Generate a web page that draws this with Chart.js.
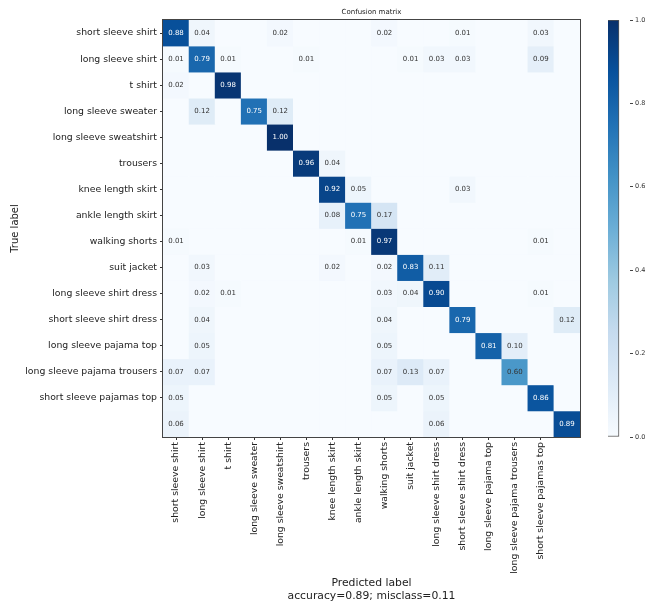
<!DOCTYPE html>
<html>
<head>
<meta charset="utf-8">
<script src="https://cdn.jsdelivr.net/npm/chart.js@4.4.1/dist/chart.umd.min.js"></script>
<style>
  html, body { margin: 0; padding: 0; background: #ffffff; }
  #wrap { position: relative; width: 661px; height: 605px; background: #ffffff; }
  #main { position: absolute; left: 0; top: 0; }
  #cbar { position: absolute; left: 600px; top: 0; }
</style>
</head>
<body>
<div id="wrap">
  <canvas id="main" width="661" height="605"></canvas>
  <canvas id="cbar" width="61" height="605"></canvas>
</div>
<script>
// ---- data ----
const classes = [
  'short sleeve shirt', 'long sleeve shirt', 't shirt', 'long sleeve sweater',
  'long sleeve sweatshirt', 'trousers', 'knee length skirt', 'ankle length skirt',
  'walking shorts', 'suit jacket', 'long sleeve shirt dress', 'short sleeve shirt dress',
  'long sleeve pajama top', 'long sleeve pajama trousers', 'short sleeve pajamas top'
];
// 16x16 normalized confusion matrix (rows = true, cols = predicted); last row/col unlabeled
const matrix = [
  [0.88,0.04,0,0,0.02,0,0,0,0.02,0,0,0.01,0,0,0.03,0],
  [0.01,0.79,0.01,0,0,0.01,0,0,0,0.01,0.03,0.03,0,0,0.09,0],
  [0.02,0,0.98,0,0,0,0,0,0,0,0,0,0,0,0,0],
  [0,0.12,0,0.75,0.12,0,0,0,0,0,0,0,0,0,0,0],
  [0,0,0,0,1.00,0,0,0,0,0,0,0,0,0,0,0],
  [0,0,0,0,0,0.96,0.04,0,0,0,0,0,0,0,0,0],
  [0,0,0,0,0,0,0.92,0.05,0,0,0,0.03,0,0,0,0],
  [0,0,0,0,0,0,0.08,0.75,0.17,0,0,0,0,0,0,0],
  [0.01,0,0,0,0,0,0,0.01,0.97,0,0,0,0,0,0.01,0],
  [0,0.03,0,0,0,0,0.02,0,0.02,0.83,0.11,0,0,0,0,0],
  [0,0.02,0.01,0,0,0,0,0,0.03,0.04,0.90,0,0,0,0.01,0],
  [0,0.04,0,0,0,0,0,0,0.04,0,0,0.79,0,0,0,0.12],
  [0,0.05,0,0,0,0,0,0,0.05,0,0,0,0.81,0.10,0,0],
  [0.07,0.07,0,0,0,0,0,0,0.07,0.13,0.07,0,0,0.60,0,0],
  [0.05,0,0,0,0,0,0,0,0.05,0,0.05,0,0,0,0.86,0],
  [0.06,0,0,0,0,0,0,0,0,0,0.06,0,0,0,0,0.89]
];
const colorbarTicks = [0, 0.2, 0.4, 0.6, 0.8, 1.0];
const titleText = 'Confusion matrix';
const xTitleLines = ['Predicted label', 'accuracy=0.89; misclass=0.11'];
const yTitleText = 'True label';

// ---- matplotlib "Blues" colormap ----
const bluesStops = ['#f7fbff','#deebf7','#c6dbef','#9ecae1','#6baed6','#4292c6','#2171b5','#08519c','#08306b'];
function hexToRgb(h){ return [parseInt(h.slice(1,3),16),parseInt(h.slice(3,5),16),parseInt(h.slice(5,7),16)]; }
function blues(v){
  v = Math.max(0, Math.min(1, v));
  const n = bluesStops.length - 1;
  const p = v * n; const i = Math.min(Math.floor(p), n - 1); const t = p - i;
  const a = hexToRgb(bluesStops[i]), b = hexToRgb(bluesStops[i+1]);
  const c = a.map((x, k) => Math.round(x + (b[k] - x) * t));
  return 'rgb(' + c.join(',') + ')';
}

const FONT = "'DejaVu Sans', 'Liberation Sans', sans-serif";
const nRows = matrix.length, nCols = matrix[0].length;
const colLabels = Array.from({length: nCols}, (_, c) => classes[c] || '');
const thresh = 1.0 / 1.5;

// one dataset per true-label row; each bar spans its row [r-0.5, r+0.5] in predicted column c
const datasets = matrix.map((row, r) => ({
  label: 'row' + r,
  data: row.map(() => [r - 0.5, r + 0.5]),
  backgroundColor: row.map(v => blues(v)),
  borderWidth: 0,
  grouped: false,
  barPercentage: 1.0,
  categoryPercentage: 1.0
}));

const cellText = {
  id: 'cellText',
  afterDatasetsDraw(chart) {
    const {ctx, scales: {x, y}, chartArea: a} = chart;
    ctx.save();
    ctx.font = '7px ' + FONT;
    ctx.textAlign = 'center';
    ctx.textBaseline = 'middle';
    matrix.forEach((row, r) => row.forEach((v, c) => {
      if (v <= 0) return;
      ctx.fillStyle = v > thresh ? '#ffffff' : '#333333';
      ctx.fillText(v.toFixed(2), x.getPixelForValue(c), y.getPixelForValue(r));
    }));
    ctx.strokeStyle = '#444444';
    ctx.lineWidth = 1;
    ctx.strokeRect(Math.round(a.left) - 0.5, Math.round(a.top) - 0.5, Math.round(a.right - a.left) + 1, Math.round(a.bottom - a.top) + 1);
    ctx.restore();
  }
};

new Chart(document.getElementById('main'), {
  type: 'bar',
  data: { labels: colLabels, datasets },
  options: {
    responsive: false,
    animation: false,
    devicePixelRatio: 1,
    layout: { padding: { top: 0, left: 0, right: 81, bottom: 0 } },
    plugins: {
      legend: { display: false },
      tooltip: { enabled: false },
      title: {
        display: true, text: titleText, fullSize: false,
        font: { family: FONT, size: 7, weight: 'normal' }, color: '#222',
        padding: { top: 8, bottom: 3.6 }
      }
    },
    scales: {
      x: {
        type: 'category',
        offset: true,
        afterFit(s) { s.height = 168; },
        grid: {
          offset: false, drawOnChartArea: false, drawTicks: true, tickLength: 3,
          color: (ctx) => (ctx.index >= classes.length ? 'rgba(0,0,0,0)' : '#333333')
        },
        border: { display: false },
        ticks: {
          autoSkip: false, maxRotation: 90, minRotation: 90, padding: 2,
          font: { family: FONT, size: 9.3 }, color: '#222'
        },
        title: {
          display: true, text: xTitleLines,
          font: { family: FONT, size: 10.8, lineHeight: 1.15 }, color: '#222',
          padding: { top: 0, bottom: 2.8 }
        }
      },
      y: {
        type: 'linear',
        reverse: true,
        min: -0.5, max: nRows - 0.5,
        afterFit(s) { s.width = 163; },
        afterBuildTicks(s) { s.ticks = classes.map((_, i) => ({ value: i })); },
        grid: { drawOnChartArea: false, drawTicks: true, tickLength: 3, color: '#333333' },
        border: { display: false },
        ticks: {
          autoSkip: false, padding: 3,
          font: { family: FONT, size: 9.3 }, color: '#222',
          callback: (v) => classes[v] !== undefined ? classes[v] : ''
        },
        title: {
          display: true, text: yTitleText,
          font: { family: FONT, size: 10 }, color: '#222',
          padding: { top: 9, bottom: 0 }
        }
      }
    }
  },
  plugins: [cellText]
});

// ---- colorbar ----
new Chart(document.getElementById('cbar'), {
  type: 'bar',
  data: {
    labels: [''],
    datasets: [{
      data: [[colorbarTicks[0], colorbarTicks[colorbarTicks.length - 1]]],
      barPercentage: 1.0, categoryPercentage: 1.0,
      borderWidth: 1, borderColor: '#555555', borderSkipped: false,
      backgroundColor: (ctx) => {
        const ch = ctx.chart; const a = ch.chartArea;
        if (!a) return '#9ecae1';
        const g = ch.ctx.createLinearGradient(0, a.bottom, 0, a.top);
        bluesStops.forEach((s, i) => g.addColorStop(i / (bluesStops.length - 1), s));
        return g;
      }
    }]
  },
  options: {
    responsive: false,
    animation: false,
    devicePixelRatio: 1,
    layout: { padding: { top: 20, left: 8, right: 0, bottom: 168 } },
    plugins: { legend: { display: false }, tooltip: { enabled: false } },
    scales: {
      x: { display: false, offset: false },
      y: {
        position: 'right',
        min: 0, max: 1,
        afterFit(s) { s.width = 31; },
        afterBuildTicks(s) { s.ticks = colorbarTicks.map(v => ({ value: v })); },
        grid: { drawOnChartArea: false, drawTicks: true, tickLength: 3, color: '#444444' },
        border: { display: false },
        ticks: {
          padding: 2, autoSkip: false,
          font: { family: FONT, size: 6.5 }, color: '#333',
          callback: (v) => Number(v).toFixed(1)
        }
      }
    }
  }
});
</script>
</body>
</html>
